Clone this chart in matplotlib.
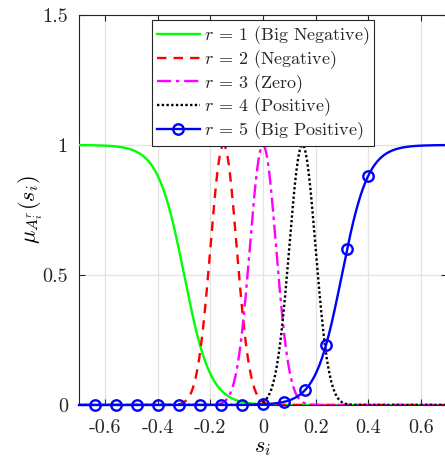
import numpy as np
import matplotlib
matplotlib.use("Agg")
import matplotlib.pyplot as plt

plt.rcParams["font.family"] = ["cmr10", "DejaVu Serif"]
plt.rcParams["mathtext.fontset"] = "cm"
plt.rcParams["axes.unicode_minus"] = False
plt.rcParams["axes.formatter.use_mathtext"] = True

# Membership function parameters for the five fuzzy sets
labels = ["$r$ = 1 (Big Negative)", "$r$ = 2 (Negative)", "$r$ = 3 (Zero)",
          "$r$ = 4 (Positive)", "$r$ = 5 (Big Positive)"]
kinds = ["zmf", "gauss", "gauss", "gauss", "smf"]
centers = [-0.30, -0.15, 0.00, 0.15, 0.30]
widths = [20.0, 0.05, 0.05, 0.05, 20.0]   # sigmoid slope or gaussian sigma
colors = ["#00ff00", "#ff0000", "#ff00ff", "#000000", "#0000ff"]
styles = ["-", (0, (4, 3)), (0, (6, 2, 1.5, 2)), (0, (1, 1)), "-"]
marker_x = [-0.64, -0.56, -0.48, -0.40, -0.32, -0.24, -0.16, -0.08,
            0.00, 0.08, 0.16, 0.24, 0.32, 0.40]

x_ticks = [-0.6, -0.4, -0.2, 0, 0.2, 0.4, 0.6]
x_ticklabels = ["-0.6", "-0.4", "-0.2", "0", "0.2", "0.4", "0.6"]
y_ticks = [0, 0.5, 1, 1.5]
y_ticklabels = ["0", "0.5", "1", "1.5"]

s = np.round(np.arange(-0.70, 0.70001, 0.002), 4)


def membership(kind, c, w, x):
    if kind == "zmf":
        return 1.0 / (1.0 + np.exp(w * (x - c)))
    if kind == "smf":
        return 1.0 / (1.0 + np.exp(-w * (x - c)))
    return np.exp(-(x - c) ** 2 / (2 * w ** 2))


fig = plt.figure(figsize=(4.45, 4.59), dpi=100)
ax = fig.add_axes([79 / 445, 54 / 459, 368 / 445, 390 / 459])

for kind, c, w, col, ls, lab in zip(kinds, centers, widths, colors, styles, labels):
    y = membership(kind, c, w, s)
    if kind == "smf":
        idx = [int(np.argmin(np.abs(s - m))) for m in marker_x]
        ax.plot(s, y, color=col, ls=ls, lw=1.7, label=lab, marker="o",
                markevery=idx, ms=7.5, mfc="none", mec=col, mew=1.7,
                clip_on=False, zorder=3)
    else:
        ax.plot(s, y, color=col, ls=ls, lw=1.7, label=lab, zorder=3)

ax.set_xlim(-0.7, 0.7)
ax.set_ylim(0, 1.5)
ax.set_xticks(x_ticks)
ax.set_xticklabels(x_ticklabels)
ax.set_yticks(y_ticks)
ax.set_yticklabels(y_ticklabels)
ax.grid(True, color="#e3e3e3", lw=0.9)
ax.set_axisbelow(True)
ax.tick_params(direction="in", length=4, width=0.8, top=True, right=True,
               labelsize=14.5, colors="#262626")
ax.tick_params(axis="x", pad=10)
ax.tick_params(axis="y", pad=8)
for sp in ax.spines.values():
    sp.set_color("#262626")
    sp.set_linewidth(0.8)

ax.set_xlabel("$s_i$", fontsize=16, labelpad=1)
ax.set_ylabel(r"$\mu_{A_i^r}(s_i)$", fontsize=16, labelpad=-2)

leg = ax.legend(loc="upper center", bbox_to_anchor=(0.50, 0.987), fontsize=13,
                frameon=True, fancybox=False, edgecolor="#262626",
                framealpha=1, handlelength=2.4, handletextpad=0.2,
                labelspacing=0.05, borderpad=0.25, borderaxespad=0)
leg.get_frame().set_linewidth(0.8)
for t in leg.get_texts():
    t.set_color("#262626")

fig.savefig("out.png", dpi=100)
